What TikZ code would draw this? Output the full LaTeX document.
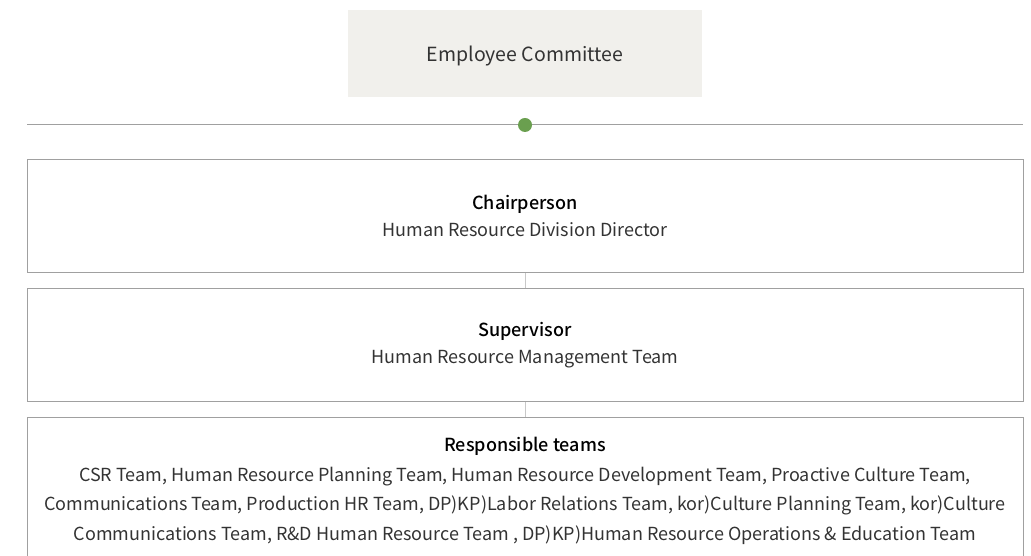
\documentclass[tikz,border=0pt]{standalone}
\usepackage{fontspec}
\setmainfont{Noto Sans CJK KR}[BoldFont={Noto Sans CJK KR Medium}]
\usetikzlibrary{positioning}

\definecolor{panelfill}{HTML}{F1F0EC}
\definecolor{framegray}{HTML}{A0A0A0}
\definecolor{stemgray}{HTML}{C8C8C8}
\definecolor{textgray}{HTML}{333333}
\definecolor{hubgreen}{HTML}{6A9F4F}

\begin{document}
\begin{tikzpicture}[
    x=1pt, y=1pt,
    node distance=15pt,
    header/.style = {rectangle, fill=panelfill, minimum width=354pt, minimum height=87pt, text height=19pt, text depth=3pt, text=textgray, font=\fontsize{19.5}{23}\selectfont},
    rolebox/.style = {rectangle, draw=framegray, line width=1pt, align=center, minimum width=996pt, minimum height=113pt, text=textgray, font=\fontsize{18}{27}\selectfont},
    hub/.style = {circle, fill=hubgreen, minimum size=14pt, inner sep=0pt},
    rail/.style = {draw=framegray, line width=1pt},
    stem/.style = {draw=stemgray, line width=1pt}
]
\useasboundingbox (0,0) rectangle (1031,556);

% Committee header and the rail under it
\node[header] (committee) at (525,502.5) {Employee Committee};
\coordinate (railL) at (27,431);
\coordinate (railR) at (1023,431);
\draw[rail] (railL) -- (railR);
\node[hub] (hubdot) at (525,431) {};

% Stacked role boxes
\node[rolebox, anchor=north] (chair) at (525,397) {\textcolor{black}{\textbf{Chairperson}}\\Human Resource Division Director};
\node[rolebox, below=of chair] (super) {\textcolor{black}{\textbf{Supervisor}}\\Human Resource Management Team};
\node[rolebox, below=of super, minimum height=0pt, inner ysep=20pt, font=\fontsize{18}{29.5}\selectfont] (teams) {\textcolor{black}{\textbf{Responsible teams}}\\
  CSR Team, Human Resource Planning Team, Human Resource Development Team, Proactive Culture Team,\\
  Communications Team, Production HR Team, DP)KP)Labor Relations Team, kor)Culture Planning Team, kor)Culture\\
  Communications Team, R\&D Human Resource Team , DP)KP)Human Resource Operations \& Education Team};

% Stems between boxes
\draw[stem] (chair) -- (super);
\draw[stem] (super) -- (teams);

\end{tikzpicture}
\end{document}
